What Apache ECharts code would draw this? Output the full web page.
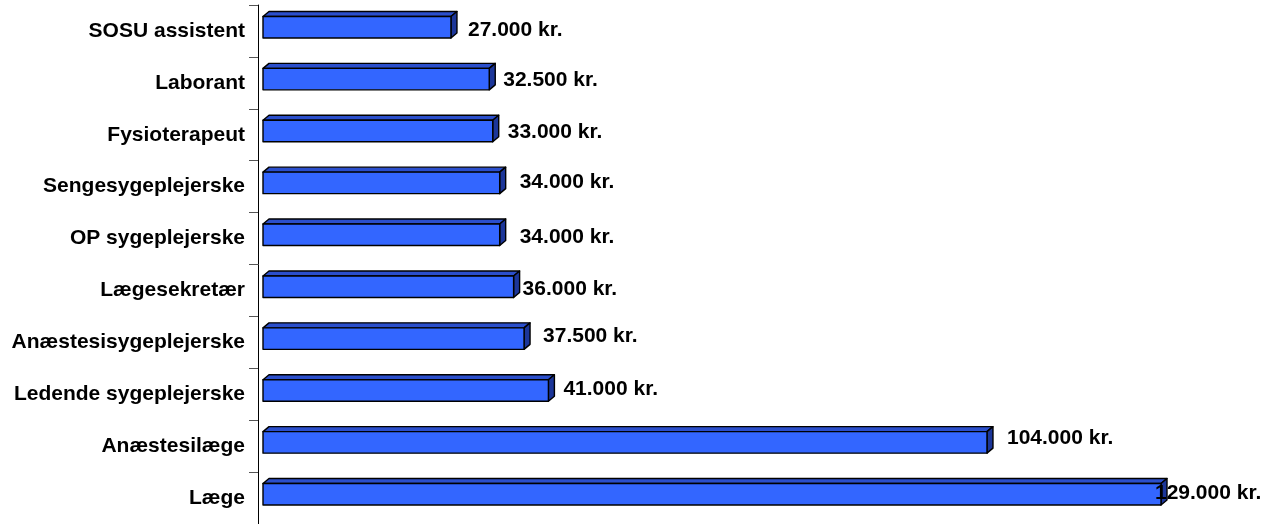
<!DOCTYPE html>
<html>
<head>
<meta charset="utf-8">
<script src="https://cdn.jsdelivr.net/npm/echarts@6/dist/echarts.min.js"></script>
<style>
  html, body { margin: 0; padding: 0; background: #ffffff; }
  #chart { width: 1275px; height: 524px; }
</style>
</head>
<body>
<div id="chart"></div>
<script>
// Monthly salary per job title (kr.), listed top to bottom
const categories = [
  'SOSU assistent', 'Laborant', 'Fysioterapeut', 'Sengesygeplejerske',
  'OP sygeplejerske', 'Lægesekretær', 'Anæstesisygeplejerske',
  'Ledende sygeplejerske', 'Anæstesilæge', 'Læge'
];
const salaries = [27000, 32500, 33000, 34000, 34000, 36000, 37500, 41000, 104000, 129000];

// Fine placement of the value labels next to each bar (pixels)
const labelGap = [17, 14, 15, 20, 20, 9, 19, 15, 20, -6];
const labelDy = [-1, -3, -3, -4, -1, -1, -6, -5, -8, -5];

const FONT = '"Liberation Sans", Arial, Helvetica, sans-serif';
const DEPTH_X = 6, DEPTH_Y = 5;
const FACE_TOP = -14.5, FACE_BOTTOM = 7;

function formatKr(v) {
  return v.toString().replace(/\B(?=(\d{3})+(?!\d))/g, '.') + ' kr.';
}

// Draws one bar as a box: top face, end face, front face, then its value label
function renderBar(params, api) {
  const idx = params.dataIndex;
  const val = api.value(0);
  const cat = api.value(1);
  const p0 = api.coord([0, cat]);
  const p1 = api.coord([val, cat]);
  const x0 = p0[0], x1 = p1[0], c = p0[1];
  const yt = c + FACE_TOP, yb = c + FACE_BOTTOM;
  const stroke = { stroke: '#000000', lineWidth: 1.4, lineJoin: 'round' };
  return {
    type: 'group',
    children: [
      {
        type: 'polygon',
        shape: { points: [[x0, yt], [x0 + DEPTH_X, yt - DEPTH_Y], [x1 + DEPTH_X, yt - DEPTH_Y], [x1, yt]] },
        style: Object.assign({ fill: '#2B4FCC' }, stroke)
      },
      {
        type: 'polygon',
        shape: { points: [[x1, yt], [x1 + DEPTH_X, yt - DEPTH_Y], [x1 + DEPTH_X, yb - DEPTH_Y], [x1, yb]] },
        style: Object.assign({ fill: '#1C3699' }, stroke)
      },
      {
        type: 'rect',
        shape: { x: x0, y: yt, width: x1 - x0, height: yb - yt },
        style: Object.assign({ fill: '#3366FF' }, stroke)
      },
      {
        type: 'text',
        z2: 10,
        style: {
          x: x1 + labelGap[idx],
          y: c + labelDy[idx],
          text: formatKr(val),
          fill: '#000000',
          font: 'bold 21px ' + FONT,
          verticalAlign: 'middle',
          align: 'left'
        }
      }
    ]
  };
}

const chart = echarts.init(document.getElementById('chart'), null, { renderer: 'canvas' });
chart.setOption({
  animation: false,
  backgroundColor: '#ffffff',
  grid: { left: 263, top: 5, width: 898, height: 522, containLabel: false },
  xAxis: {
    type: 'value',
    min: 0,
    max: 129000,
    show: false
  },
  yAxis: {
    type: 'category',
    data: categories,
    inverse: true,
    offset: 5,
    axisLine: { show: true, onZero: false, lineStyle: { color: '#000000', width: 1 } },
    axisTick: { show: true, length: 9, lineStyle: { color: '#555555', width: 1 } },
    axisLabel: {
      margin: 13,
      color: '#000000',
      fontFamily: FONT,
      fontWeight: 'bold',
      fontSize: 21
    },
    splitLine: { show: false }
  },
  series: [{
    type: 'custom',
    renderItem: renderBar,
    encode: { x: 0, y: 1 },
    data: salaries.map((v, i) => [v, i]),
    clip: false
  }]
});
</script>
</body>
</html>
